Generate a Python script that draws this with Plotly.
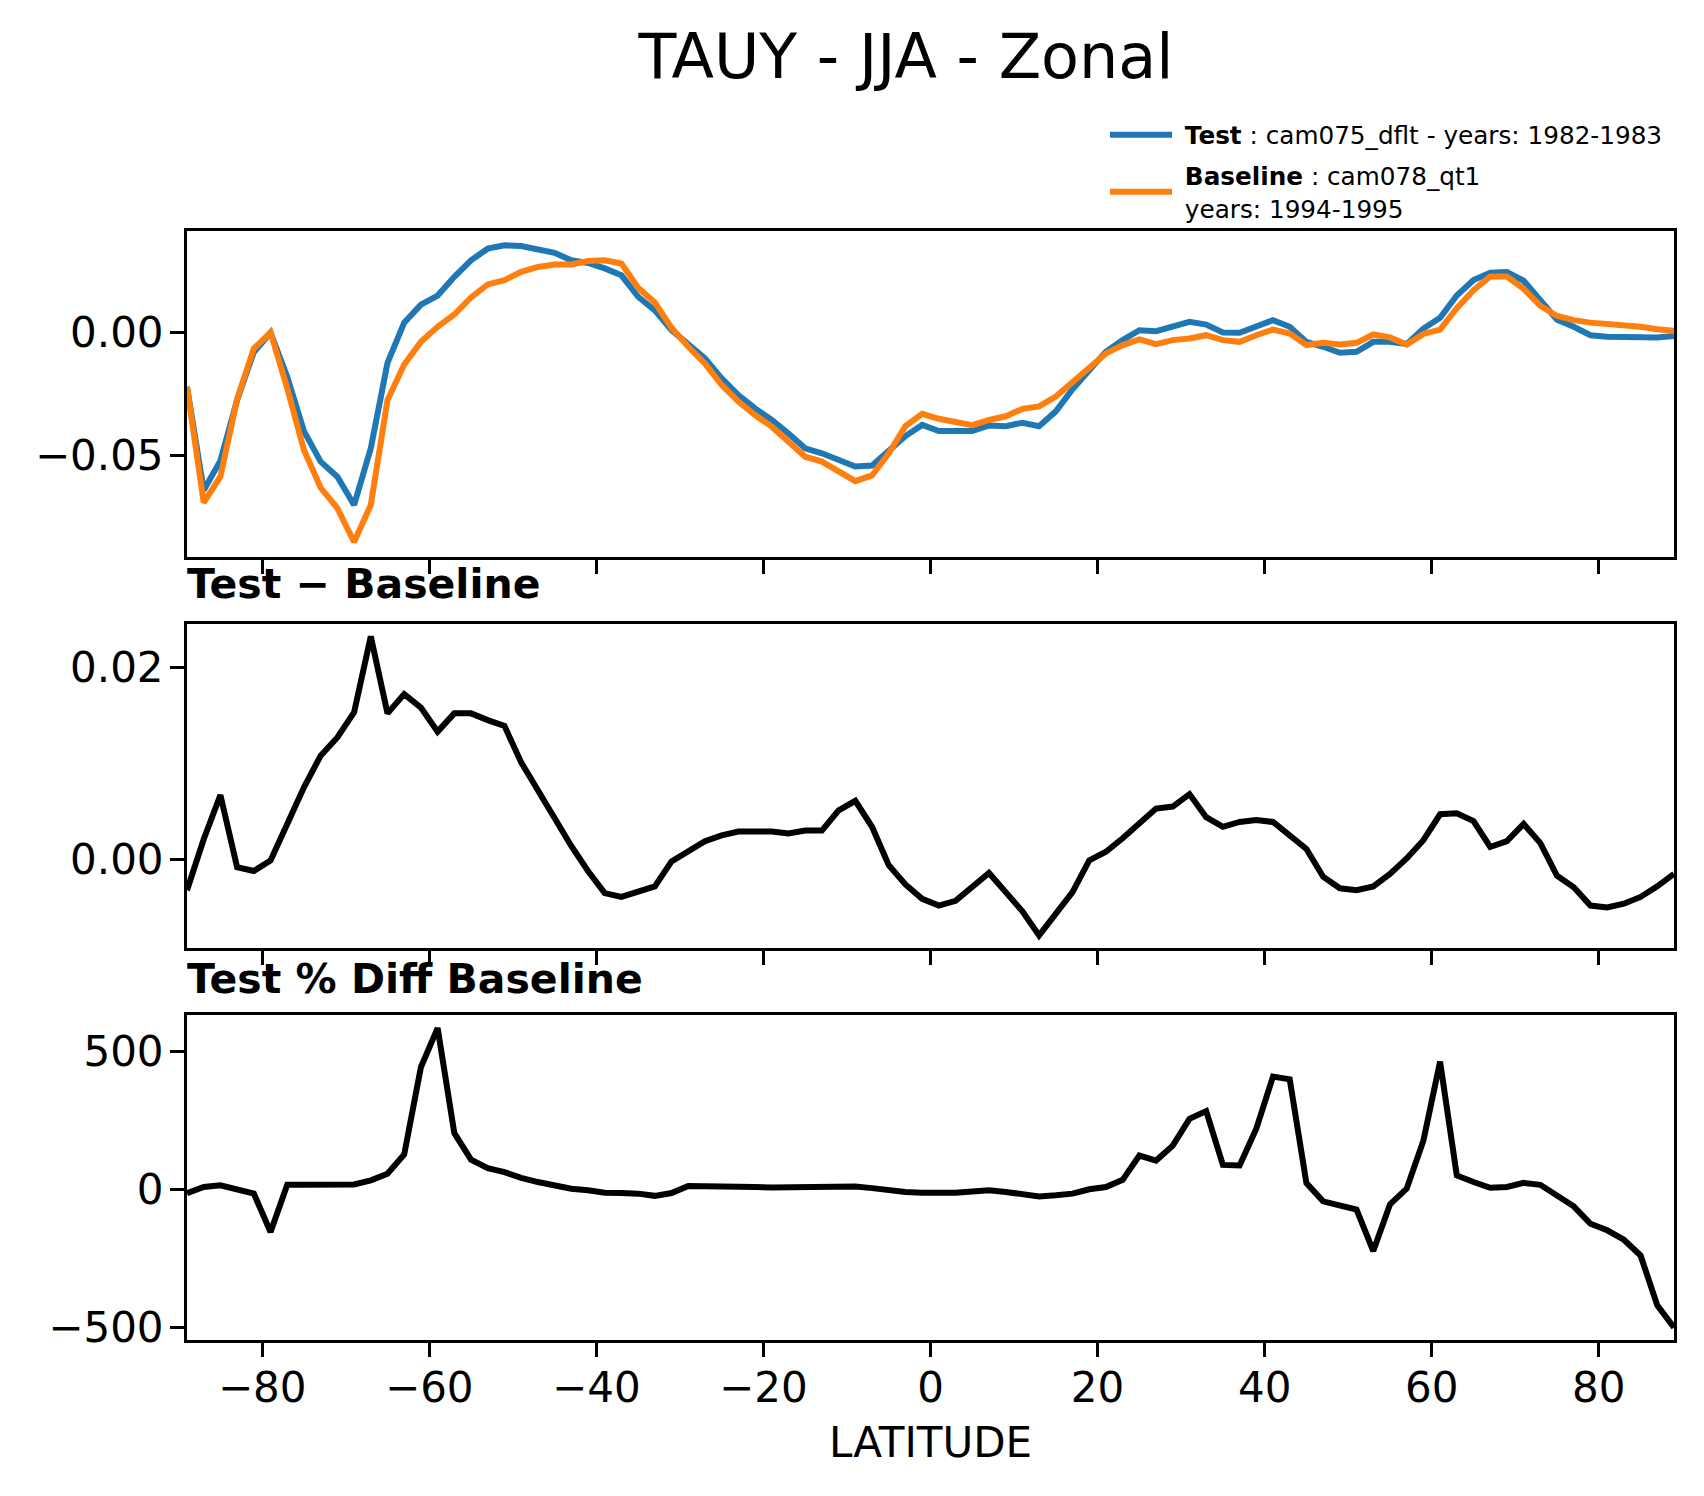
import plotly.graph_objects as go

lat = [-89, -87, -85, -83, -81, -79, -77, -75, -73, -71,
       -69, -67, -65, -63, -61, -59, -57, -55, -53, -51,
       -49, -47, -45, -43, -41, -39, -37, -35, -33, -31,
       -29, -27, -25, -23, -21, -19, -17, -15, -13, -11,
       -9, -7, -5, -3, -1, 1, 3, 5, 7, 9,
       11, 13, 15, 17, 19, 21, 23, 25, 27, 29,
       31, 33, 35, 37, 39, 41, 43, 45, 47, 49,
       51, 53, 55, 57, 59, 61, 63, 65, 67, 69,
       71, 73, 75, 77, 79, 81, 83, 85, 87, 89]

# TAUY zonal mean, test case
test = [-0.022, -0.064, -0.052, -0.0274, -0.008, 0.000, -0.018, -0.040, -0.0524, -0.0585,
        -0.070, -0.047, -0.0123, 0.004, 0.0113, 0.015, 0.0226, 0.0293, 0.034, 0.0354,
        0.0351, 0.034, 0.0323, 0.0293, 0.0282, 0.026, 0.0232, 0.0145, 0.009, 0.001,
        -0.0045, -0.0105, -0.0186, -0.0254, -0.0308, -0.0355, -0.041, -0.047, -0.049, -0.0517,
        -0.0544, -0.054, -0.048, -0.042, -0.0375, -0.040, -0.040, -0.040, -0.0377, -0.038,
        -0.0366, -0.038, -0.032, -0.023, -0.0153, -0.0078, -0.0031, 0.0009, 0.0005, 0.0026,
        0.0043, 0.0032, 0.000, -0.0001, 0.0026, 0.005, 0.0023, -0.0038, -0.0058, -0.0082,
        -0.0078, -0.0038, -0.0038, -0.0047, 0.0016, 0.006, 0.015, 0.0213, 0.0242, 0.0245,
        0.021, 0.0131, 0.0052, 0.0023, -0.0011, -0.0017, -0.002, -0.0022, -0.002, -0.0014]

# baseline case
baseline = [-0.022, -0.069, -0.0585, -0.027, -0.0065, 0.000, -0.0227, -0.0477, -0.063, -0.0713,
            -0.085, -0.070, -0.0274, -0.013, -0.0038, 0.0023, 0.0073, 0.0142, 0.0195, 0.0212,
            0.0246, 0.0266, 0.0276, 0.0276, 0.029, 0.0293, 0.028, 0.0182, 0.0122, 0.0019,
            -0.0058, -0.0126, -0.0213, -0.028, -0.0335, -0.0382, -0.0443, -0.0504, -0.0524, -0.0565,
            -0.0603, -0.058, -0.049, -0.038, -0.033, -0.035, -0.036, -0.0376, -0.0355, -0.034,
            -0.031, -0.030, -0.026, -0.020, -0.0146, -0.0085, -0.0051, -0.0028, -0.0047, -0.0031,
            -0.0024, -0.0011, -0.0031, -0.0038, -0.0011, 0.0012, -0.0004, -0.0051, -0.0042, -0.0049,
            -0.0042, -0.0008, -0.002, -0.0049, -0.0006, 0.0012, 0.0099, 0.0172, 0.0227, 0.0227,
            0.0177, 0.0108, 0.0067, 0.005, 0.004, 0.0036, 0.003, 0.0023, 0.0013, 0.0007]

# test - baseline
diff = [-0.0032, 0.0021, 0.0067, -0.0008, -0.0012, -0.0001, 0.0037, 0.0075, 0.0108, 0.0127,
        0.0153, 0.0232, 0.0152, 0.0172, 0.0158, 0.0133, 0.0152, 0.0152, 0.0145, 0.0139,
        0.0101, 0.0072, 0.0041, 0.0014, -0.0012, -0.0035, -0.0039, -0.0033, -0.0028, -0.0002,
        0.0009, 0.0019, 0.0025, 0.0029, 0.0029, 0.0029, 0.0027, 0.003, 0.003, 0.0051,
        0.0061, 0.0034, -0.0006, -0.0026, -0.0041, -0.0048, -0.0043, -0.0029, -0.0014, -0.0034,
        -0.0054, -0.0079, -0.0056, -0.0034, -0.0001, 0.0008, 0.0022, 0.0037, 0.0053, 0.0055,
        0.0068, 0.0044, 0.0034, 0.0039, 0.0041, 0.0039, 0.0025, 0.0011, -0.0018, -0.003,
        -0.0032, -0.0028, -0.0015, 0.0001, 0.002, 0.0047, 0.0048, 0.004, 0.0013, 0.0019,
        0.0037, 0.0017, -0.0017, -0.0029, -0.0048, -0.005, -0.0046, -0.0039, -0.0028, -0.0015]

# percent difference
pct = [-12, 10, 16, 1, -14, -153, 18, 18, 19, 19,
       19, 34, 58, 128, 444, 586, 205, 109, 78, 64,
       43, 28, 16, 4, -2, -11, -12, -14, -22, -12,
       14, 14, 12, 10, 10, 8, 8, 8, 8, 11,
       12, 6, -2, -8, -11, -12, -11, -6, -2, -8,
       -17, -24, -20, -14, 2, 10, 36, 124, 106, 160,
       257, 285, 90, 88, 221, 410, 400, 24, -42, -57,
       -72, -222, -53, 4, 178, 464, 52, 28, 7, 10,
       25, 18, -20, -60, -123, -147, -181, -238, -419, -499]

xticks = [-80, -60, -40, -20, 0, 20, 40, 60, 80]

FONT = "DejaVu Sans"
OFF = 8  # page body margin
W, H = 1704 - OFF, 1496 - OFF

def px(x):
    return (x - OFF) / W

def py(y):
    return 1 - (y - OFF) / H

def ydom(top, bot):
    return [py(bot), py(top)]

NB = '\u00a0'

fig = go.Figure()
fig.add_trace(go.Scatter(x=lat, y=test, mode='lines', line=dict(color='#1f77b4', width=6),
                         name=NB + '<b>Test</b> : cam075_dflt - years: 1982-1983', legendgroup='test',
                         xaxis='x', yaxis='y'))
fig.add_trace(go.Scatter(x=lat, y=baseline, mode='lines', line=dict(color='#ff7f0e', width=6),
                         name=NB + '<b>Baseline</b> : cam078_qt1<br>' + NB + 'years: 1994-1995',
                         legendgroup='base', xaxis='x', yaxis='y'))
fig.add_trace(go.Scatter(x=lat, y=diff, mode='lines', line=dict(color='black', width=6),
                         showlegend=False, xaxis='x2', yaxis='y2'))
fig.add_trace(go.Scatter(x=lat, y=pct, mode='lines', line=dict(color='black', width=6),
                         showlegend=False, xaxis='x3', yaxis='y3'))

xdom = [px(187), px(1674)]

ax = dict(showline=True, mirror=True, linecolor='black', linewidth=3, showgrid=False,
          zeroline=False, ticks='outside', ticklen=14, tickwidth=3, tickcolor='black',
          tickfont=dict(family=FONT, size=42, color='black'))

fig.update_layout(
    width=W, height=H,
    margin=dict(l=0, r=0, t=0, b=0),
    plot_bgcolor='white', paper_bgcolor='white',
    font=dict(family=FONT, color='black'),
    title=dict(text='TAUY - JJA - Zonal', x=px(906), xanchor='center', y=py(56), yanchor='middle',
               font=dict(family=FONT, size=62, color='black')),
    legend=dict(x=px(1105), xanchor='left', y=py(113), yanchor='top', bgcolor='rgba(0,0,0,0)',
                font=dict(family=FONT, size=24.7, color='black'), tracegroupgap=6, itemwidth=62),
    xaxis=dict(ax, domain=xdom, range=[-89, 89], tickvals=xticks, showticklabels=False, anchor='y'),
    yaxis=dict(ax, domain=ydom(233, 561), range=[-0.0909, 0.0411], dtick=0.05, tickformat='.2f',
               anchor='x', ticklabelstandoff=-2),
    xaxis2=dict(ax, domain=xdom, range=[-89, 89], tickvals=xticks, showticklabels=False, anchor='y2'),
    yaxis2=dict(ax, domain=ydom(629, 956), range=[-0.00925, 0.0245], dtick=0.02, tickformat='.2f',
                anchor='x2', ticklabelstandoff=-2),
    xaxis3=dict(ax, domain=xdom, range=[-89, 89], tickvals=xticks, anchor='y3', ticklabelstandoff=-6,
                title=dict(text='LATITUDE', font=dict(family=FONT, size=42, color='black'), standoff=18)),
    yaxis3=dict(ax, domain=ydom(1023, 1351), range=[-545, 634], dtick=500, anchor='x3',
                ticklabelstandoff=-2),
)

# panel titles
fig.add_annotation(text='<b>Test − Baseline</b>', xref='paper', yref='paper', x=px(185), y=py(589),
                   xanchor='left', yanchor='middle', showarrow=False,
                   font=dict(family=FONT, size=41, color='black'))
fig.add_annotation(text='<b>Test % Diff Baseline</b>', xref='paper', yref='paper', x=px(185), y=py(987),
                   xanchor='left', yanchor='middle', showarrow=False,
                   font=dict(family=FONT, size=41, color='black'))

fig.write_html("out.html")
